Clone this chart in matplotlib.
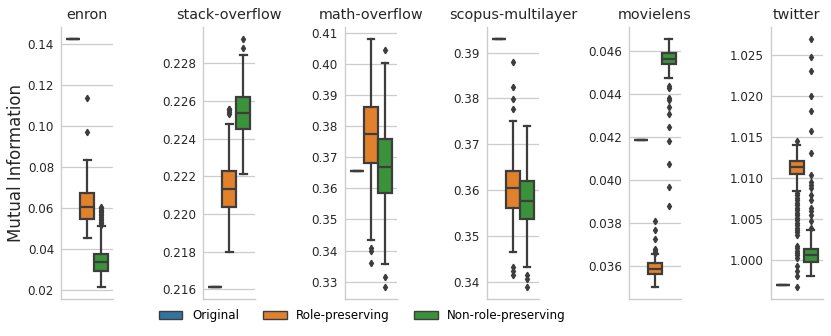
import matplotlib
matplotlib.use("Agg")
import matplotlib.pyplot as plt
from matplotlib.patches import Patch

# datasets shown in the panels
datasets = ["enron", "stack-overflow", "math-overflow", "scopus-multilayer", "movielens", "twitter"]
groups = ["Original", "Role-preserving", "Non-role-preserving"]

# single value for the original network
original = [0.1421, 0.21614, 0.3654, 0.3929, 0.04186, 0.99697]

# role-preserving box stats
role_lo = [0.0455, 0.2180, 0.3434, 0.3464, 0.03505, 1.00846]
role_q1 = [0.0546, 0.22039, 0.3681, 0.3561, 0.03564, 1.01057]
role_med = [0.0606, 0.2213, 0.3774, 0.3604, 0.03587, 1.01134]
role_q3 = [0.0673, 0.2223, 0.3862, 0.3641, 0.03617, 1.01206]
role_hi = [0.0835, 0.2248, 0.4078, 0.3750, 0.03655, 1.01405]
role_fliers = [
    [0.0971, 0.1136],
    [0.2253, 0.2254, 0.2255, 0.22555, 0.2256],
    [0.3407, 0.3398, 0.3359],
    [0.3880, 0.3824, 0.3799, 0.3777, 0.3433, 0.3423, 0.3414],
    [0.03662, 0.03668, 0.03675, 0.0368, 0.03728, 0.0377, 0.0381],
    [1.01457, 1.0082, 1.0079, 1.0076, 1.0073, 1.0070, 1.0067, 1.0064, 1.0061,
     1.0058, 1.0055, 1.0052, 1.0049, 1.0046, 1.0043, 1.0040, 1.0037, 1.0034,
     1.0031, 1.0018, 1.0015, 1.0012, 1.0009, 1.0006, 1.0003, 0.9993, 0.9987,
     0.9981, 0.9968],
]

# non-role-preserving box stats
nonrole_lo = [0.0216, 0.2221, 0.3358, 0.3432, 0.04475, 0.99806]
nonrole_q1 = [0.0291, 0.2245, 0.3584, 0.3536, 0.04542, 0.9998]
nonrole_med = [0.0335, 0.22534, 0.3667, 0.3575, 0.04566, 1.00061]
nonrole_q3 = [0.0375, 0.2262, 0.3758, 0.3620, 0.04592, 1.00142]
nonrole_hi = [0.0510, 0.22842, 0.4003, 0.3739, 0.04656, 1.00364]
nonrole_fliers = [
    [0.0518, 0.0525, 0.0532, 0.0540, 0.0548, 0.0555, 0.0563, 0.0570, 0.0578,
     0.0585, 0.0592, 0.0600, 0.0605],
    [0.22879, 0.22927],
    [0.4044, 0.3315, 0.3284],
    [0.3414, 0.3405, 0.3389],
    [0.04441, 0.0443, 0.04381, 0.04372, 0.0434, 0.04309, 0.04247, 0.04184,
     0.04078, 0.03969, 0.03881],
    [1.0269, 1.0248, 1.0230, 1.0200, 1.0182, 1.0158, 1.01304, 1.0104, 1.0096,
     1.0092, 1.0088, 1.0079, 1.0074, 1.0064, 1.0060, 1.0055, 1.0048, 1.0040],
]

colors = ["#3274a1", "#e1812c", "#3a923a"]
gray = "#3d3d3d"
lw = 1.6

fig, axes = plt.subplots(1, 6, figsize=(8.31, 3.36), dpi=100)
fig.subplots_adjust(left=0.0734, right=0.9904, top=0.9196, bottom=0.110, wspace=1.71)

for i, ax in enumerate(axes):
    stats = [
        dict(med=original[i], q1=original[i], q3=original[i],
             whislo=original[i], whishi=original[i], fliers=[]),
        dict(med=role_med[i], q1=role_q1[i], q3=role_q3[i],
             whislo=role_lo[i], whishi=role_hi[i], fliers=role_fliers[i]),
        dict(med=nonrole_med[i], q1=nonrole_q1[i], q3=nonrole_q3[i],
             whislo=nonrole_lo[i], whishi=nonrole_hi[i], fliers=nonrole_fliers[i]),
    ]
    bp = ax.bxp(stats, positions=[-0.267, 0, 0.267], widths=0.26,
                patch_artist=True, showfliers=True,
                boxprops=dict(edgecolor=gray, linewidth=lw),
                medianprops=dict(color=gray, linewidth=lw),
                whiskerprops=dict(color=gray, linewidth=lw),
                capprops=dict(color=gray, linewidth=lw),
                flierprops=dict(marker="d", markersize=3.3, markerfacecolor=gray,
                                markeredgecolor=gray, linestyle="none"))
    for patch, c in zip(bp["boxes"], colors):
        patch.set_facecolor(c)
    ax.set_xlim(-0.5, 0.5)
    ax.set_xticks([])
    ax.set_title(datasets[i], fontsize=10.4, color="#262626")
    ax.yaxis.grid(True, color="#cccccc", linewidth=0.9)
    ax.set_axisbelow(True)
    ax.ticklabel_format(axis="y", useOffset=False)
    ax.tick_params(axis="y", length=0, pad=5, labelsize=8.6, labelcolor="#262626")
    for side in ["top", "right"]:
        ax.spines[side].set_visible(False)
    for side in ["left", "bottom"]:
        ax.spines[side].set_color("#cccccc")
        ax.spines[side].set_linewidth(1.0)

axes[0].set_ylabel("Mutual Information", fontsize=12, color="#262626", labelpad=2)

handles = [Patch(facecolor=c, edgecolor=gray, linewidth=1.0) for c in colors]
fig.legend(handles, groups, loc="center", bbox_to_anchor=(0.436, 0.06), ncol=3,
           frameon=False, fontsize=8.6)

plt.savefig("out.png", dpi=100)
